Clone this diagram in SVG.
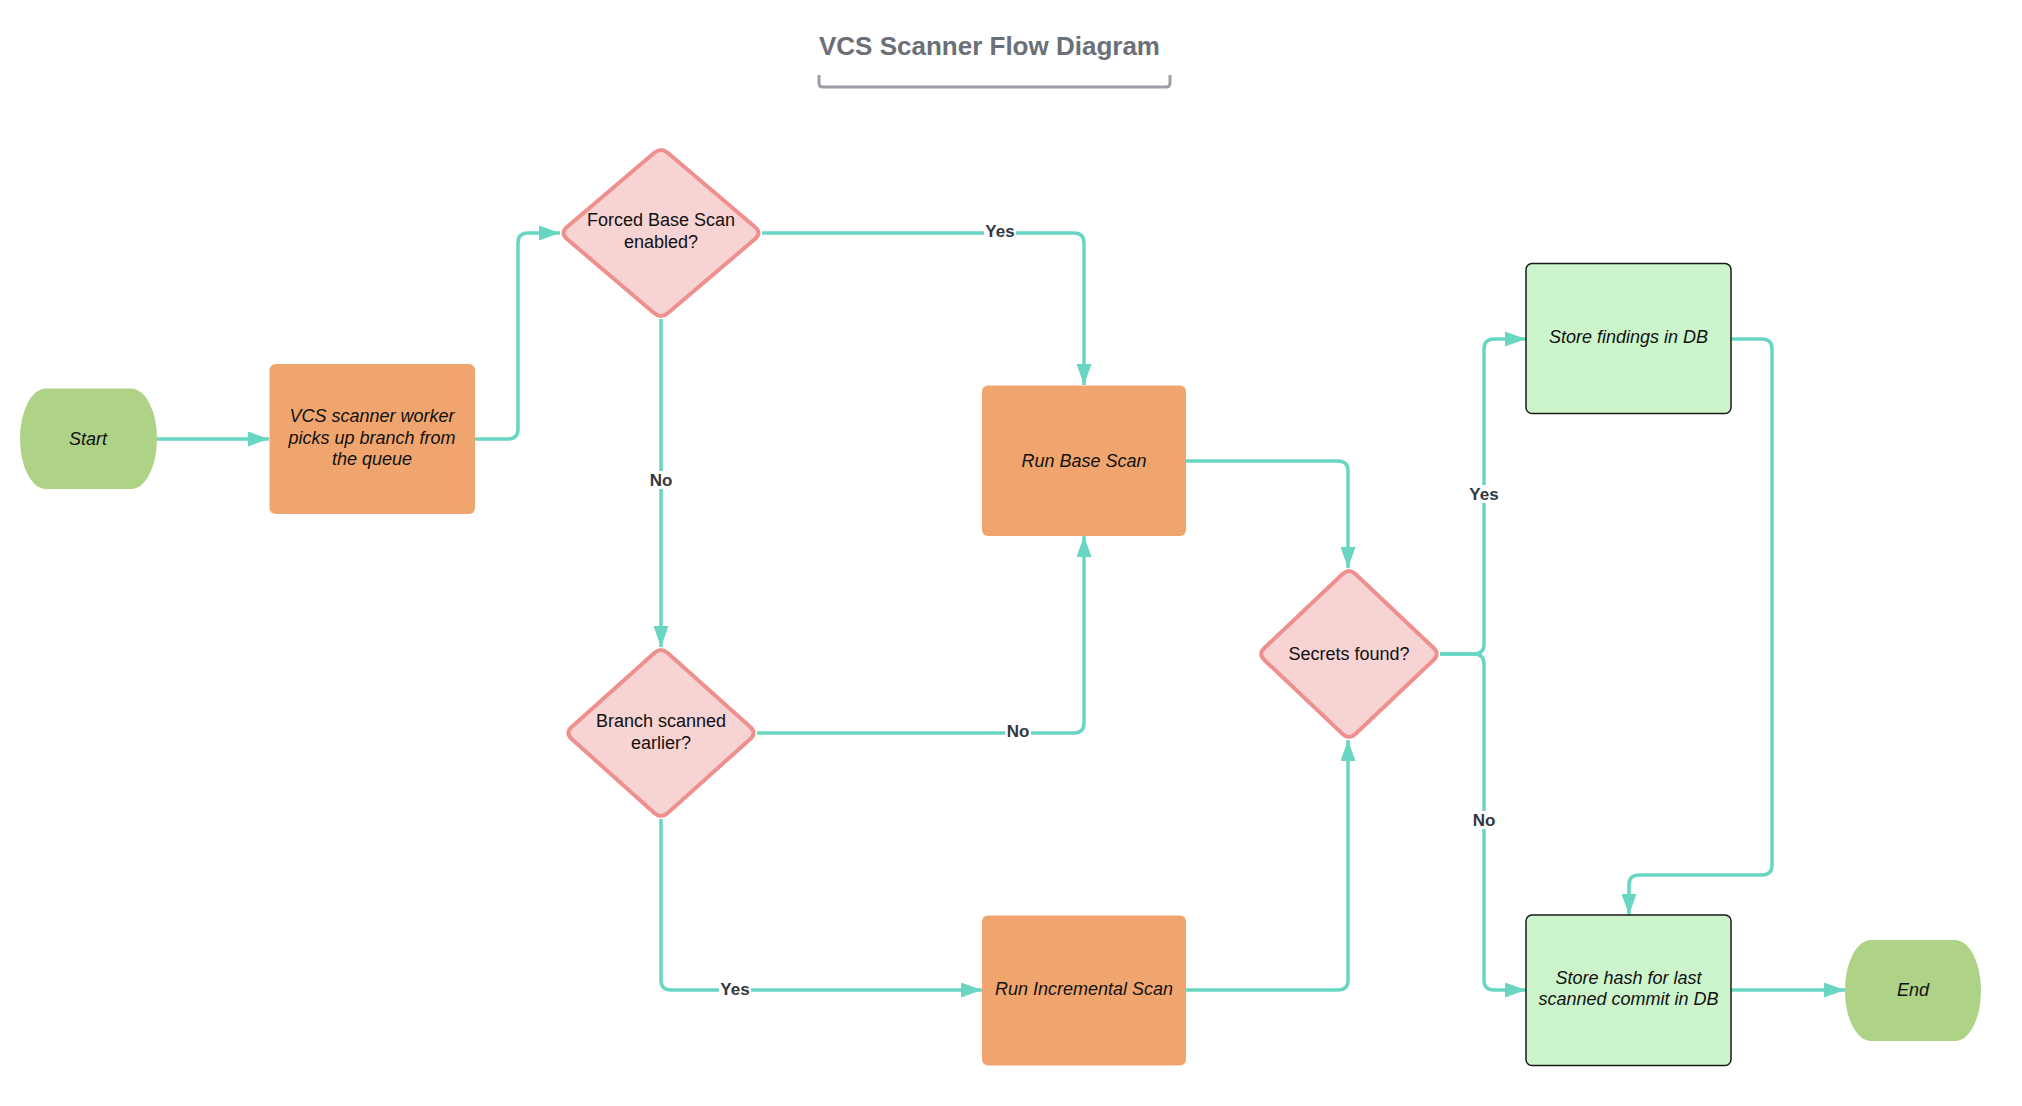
<svg xmlns="http://www.w3.org/2000/svg" width="2022" height="1106" viewBox="0 0 2022 1106">
<style>
.proc{fill:#f0a56f;}
.store{fill:#ccf5cb;stroke:#1a1a1a;stroke-width:1.5;}
.term{fill:#aed387;}
.dec{fill:#f7d3d3;stroke:#ee908e;stroke-width:4;stroke-linejoin:round;}
.t{font-family:"Liberation Sans",Arial,sans-serif;font-size:18px;fill:#111;text-anchor:middle;}
.i{font-style:italic;}
.edge{fill:none;stroke:#68d6c3;stroke-width:3.5;}
.lbl{font-family:"Liberation Sans",Arial,sans-serif;font-size:17px;font-weight:bold;fill:#333840;text-anchor:middle;}
.lb{fill:#ffffff;}
.title{font-family:"Liberation Sans",Arial,sans-serif;font-size:26px;font-weight:bold;fill:#6b6f77;}
</style>
<defs>
<marker id="arr" viewBox="0 0 21 15" refX="21" refY="7.5" markerWidth="21" markerHeight="15" markerUnits="userSpaceOnUse" orient="auto">
<path d="M0,0 L21,7.5 L0,15 Z" fill="#68d6c3"/>
</marker>
</defs>
<rect width="2022" height="1106" fill="#ffffff"/>
<g id="title">
<text class="title" x="819" y="55">VCS Scanner Flow Diagram</text>
<path d="M819,75 V83 Q819,87 823,87 H1166 Q1170,87 1170,83 V75" fill="none" stroke="#9b9ea4" stroke-width="3"/>
</g>
<g id="connectors">
<path class="edge" d="M157,439 H269" marker-end="url(#arr)"/>
<path class="edge" d="M475,439 H508 Q518,439 518,429 V243 Q518,233 528,233 H560" marker-end="url(#arr)"/>
<path class="edge" d="M661,319 V647" marker-end="url(#arr)"/>
<path class="edge" d="M762,233 H1074 Q1084,233 1084,243 V385" marker-end="url(#arr)"/>
<path class="edge" d="M757,733 H1074 Q1084,733 1084,723 V536" marker-end="url(#arr)"/>
<path class="edge" d="M661,819 V980 Q661,990 671,990 H982" marker-end="url(#arr)"/>
<path class="edge" d="M1186,461 H1338 Q1348,461 1348,471 V568" marker-end="url(#arr)"/>
<path class="edge" d="M1186,990 H1338 Q1348,990 1348,980 V740" marker-end="url(#arr)"/>
<path class="edge" d="M1440,654 H1474 Q1484,654 1484,644 V349 Q1484,339 1494,339 H1526" marker-end="url(#arr)"/>
<path class="edge" d="M1440,654 H1474 Q1484,654 1484,664 V980 Q1484,990 1494,990 H1526" marker-end="url(#arr)"/>
<path class="edge" d="M1731,339 H1762 Q1772,339 1772,349 V865 Q1772,875 1762,875 H1639 Q1629,875 1629,885 V915" marker-end="url(#arr)"/>
<path class="edge" d="M1731,990 H1845" marker-end="url(#arr)"/>
<rect class="lb" x="984" y="222" width="32" height="18"/>
<text class="lbl" x="1000" y="237">Yes</text>
<rect class="lb" x="648" y="471" width="26" height="18"/>
<text class="lbl" x="661" y="486">No</text>
<rect class="lb" x="1005" y="722" width="26" height="18"/>
<text class="lbl" x="1018" y="737">No</text>
<rect class="lb" x="719" y="980" width="32" height="18"/>
<text class="lbl" x="735" y="995">Yes</text>
<rect class="lb" x="1468" y="485" width="32" height="18"/>
<text class="lbl" x="1484" y="500">Yes</text>
<rect class="lb" x="1471" y="811" width="26" height="18"/>
<text class="lbl" x="1484" y="826">No</text>
</g>
<g id="start">
<rect class="term" x="20" y="388.5" width="137" height="100.5" rx="26" ry="50"/>
<text class="t i" x="88" y="445">Start</text>
</g>
<g id="worker">
<rect class="proc" x="269.5" y="364" width="205.5" height="150" rx="6"/>
<text class="t i" x="372" y="422">VCS scanner worker</text>
<text class="t i" x="372" y="443.5">picks up branch from</text>
<text class="t i" x="372" y="465">the queue</text>
</g>
<g id="forced">
<path class="dec" d="M668,153 L755,227 Q762,233 755,239 L668,313 Q661,319 654,313 L567,239 Q560,233 567,227 L654,153 Q661,147 668,153 Z"/>
<text class="t" x="661" y="226">Forced Base Scan</text>
<text class="t" x="661" y="248">enabled?</text>
</g>
<g id="branch">
<path class="dec" d="M667.7,653 L750.3,727 Q757,733 750.3,739 L667.7,813 Q661,819 654.3,813 L571.7,739 Q565,733 571.7,727 L654.3,653 Q661,647 667.7,653 Z"/>
<text class="t" x="661" y="727">Branch scanned</text>
<text class="t" x="661" y="749">earlier?</text>
</g>
<g id="base">
<rect class="proc" x="982" y="385.5" width="204" height="150.5" rx="6"/>
<text class="t i" x="1084" y="467">Run Base Scan</text>
</g>
<g id="incremental">
<rect class="proc" x="982" y="915.5" width="204" height="150" rx="6"/>
<text class="t i" x="1084" y="995">Run Incremental Scan</text>
</g>
<g id="secrets">
<path class="dec" d="M1355.4,574 L1433.6,648 Q1440,654 1433.6,660 L1355.4,734 Q1349,740 1342.6,734 L1264.4,660 Q1258,654 1264.4,648 L1342.6,574 Q1349,568 1355.4,574 Z"/>
<text class="t" x="1349" y="660">Secrets found?</text>
</g>
<g id="findings">
<rect class="store" x="1526" y="263.5" width="205" height="150" rx="6"/>
<text class="t i" x="1628.5" y="343">Store findings in DB</text>
</g>
<g id="hash">
<rect class="store" x="1526" y="915" width="205" height="150.5" rx="6"/>
<text class="t i" x="1628.5" y="984">Store hash for last</text>
<text class="t i" x="1628.5" y="1005">scanned commit in DB</text>
</g>
<g id="end">
<rect class="term" x="1845" y="940" width="136" height="101" rx="26" ry="50"/>
<text class="t i" x="1913" y="996">End</text>
</g>
</svg>
